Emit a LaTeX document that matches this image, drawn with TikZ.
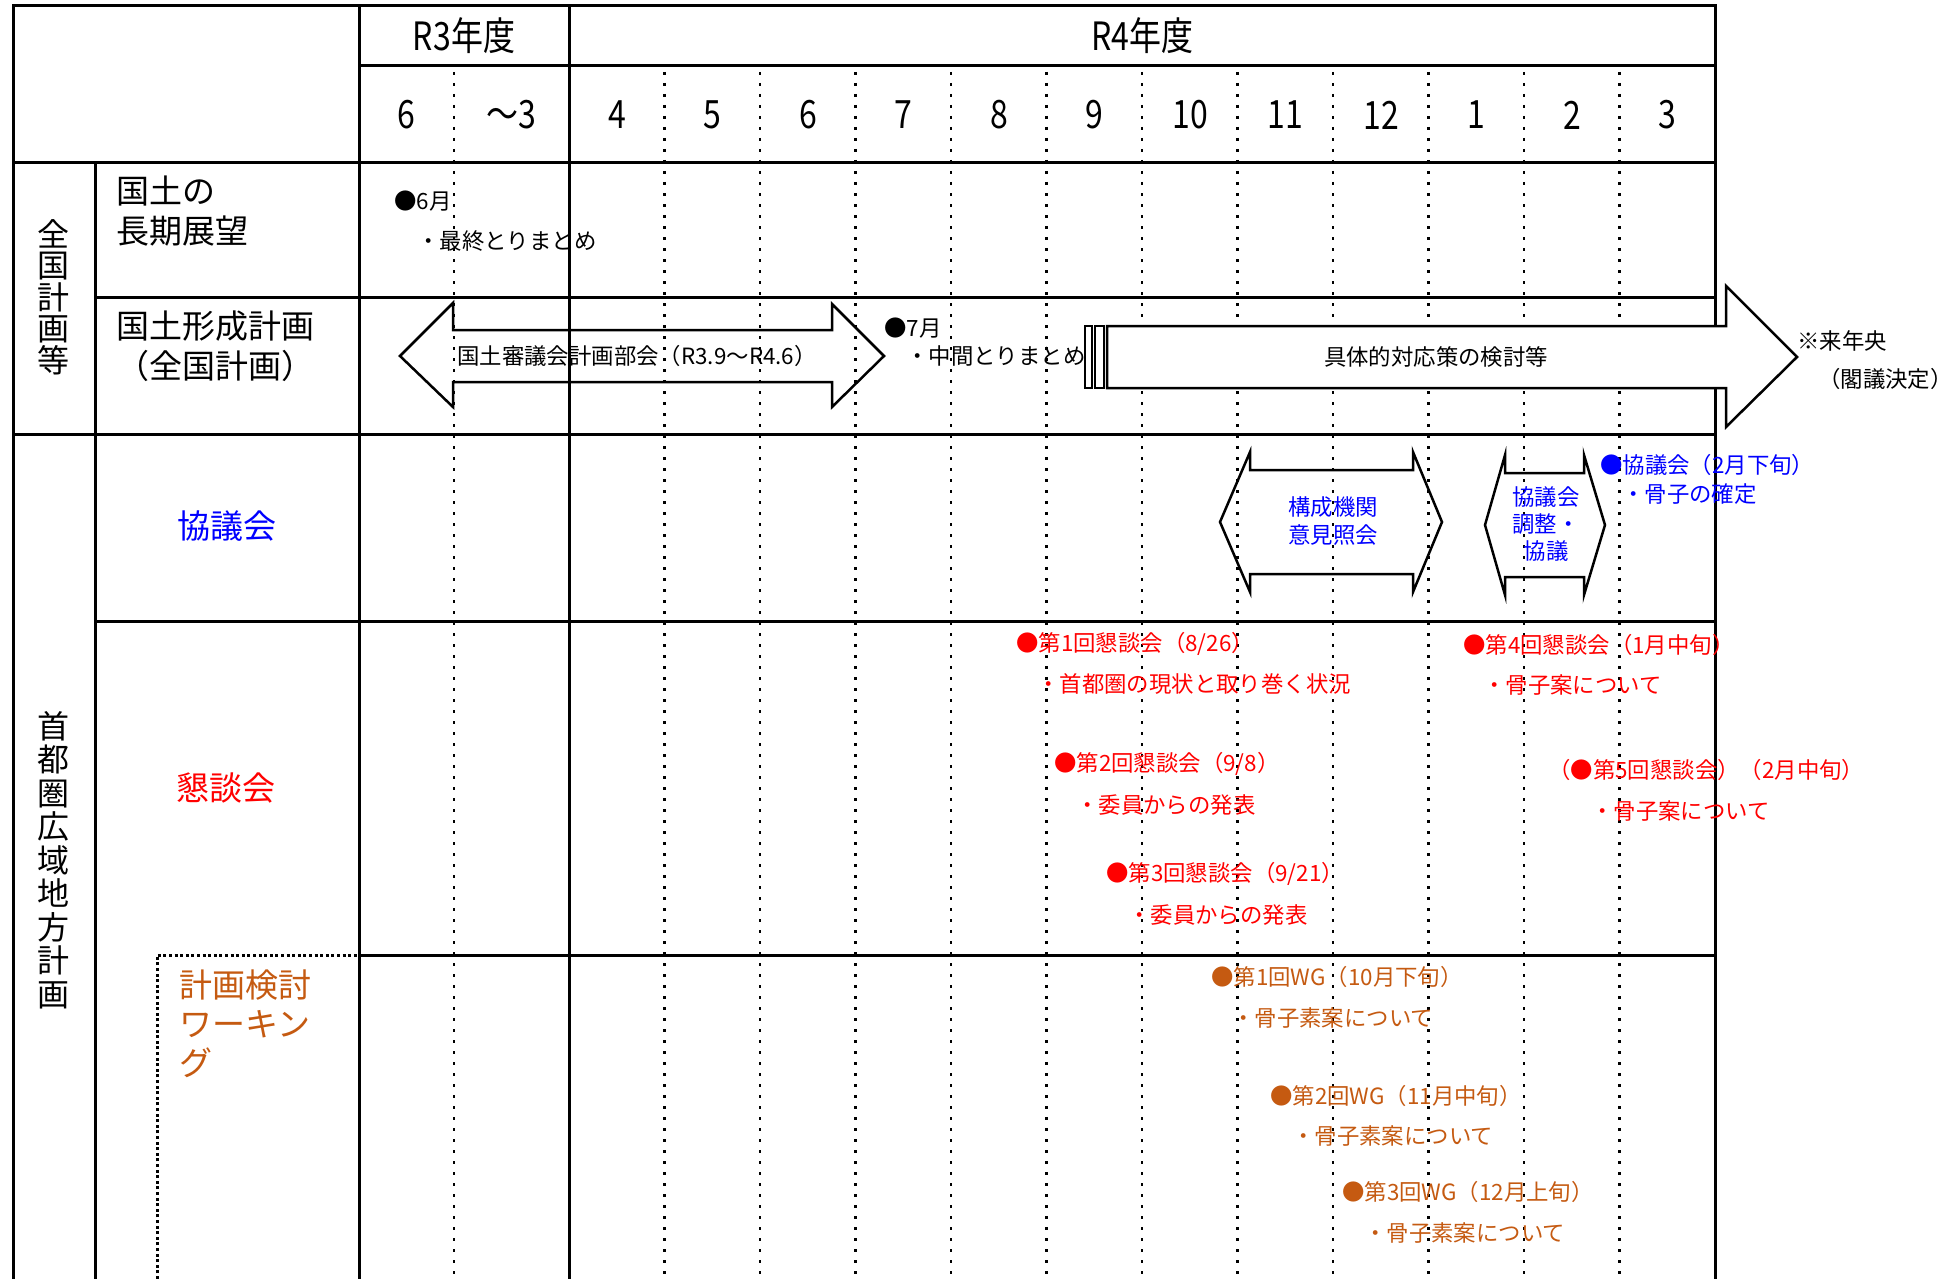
\documentclass[tikz,border=0pt]{standalone}
\usepackage{fontspec}
\setmainfont{Noto Sans CJK JP}
\newfontfamily\narrowfont[FakeStretch=0.82]{Noto Sans CJK JP}
\definecolor{kblue}{RGB}{0,0,255}
\definecolor{kred}{RGB}{255,0,0}
\definecolor{korange}{RGB}{197,90,17}
\begin{document}
\begin{tikzpicture}[x=1pt,y=-1pt,
  grid/.style={line width=3pt},
  mdot/.style={line width=2.6pt, dash pattern=on 2.6pt off 8.4pt},
  wgdot/.style={line width=3pt, dash pattern=on 3pt off 2.6pt},
  txt/.style={inner sep=0pt, anchor=west, font=\fontsize{22.4}{27}\selectfont},
  ctxt/.style={inner sep=0pt, align=center, font=\fontsize{22.4}{27.5}\selectfont},
  hdr/.style={inner sep=0pt, font=\narrowfont\fontsize{39}{44}\selectfont},
  lbl/.style={inner sep=0pt, font=\fontsize{33}{40}\selectfont},
  vlbl/.style={inner sep=0pt, align=center},
  arr/.style={line width=2.5pt, line join=miter}]

\useasboundingbox (0,0) rectangle (1960,1279);
\fill[white] (0,0) rectangle (1960,1279);

% month dotted lines
\foreach \x in {454,664.5,760,855.5,951,1046.5,1142,1237.5,1333,1428.5,1524,1619.5}
  \draw[mdot] (\x,72) -- (\x,1279);

% grid
\draw[grid] (13,1279) -- (13,6) -- (1715,6) -- (1715,1279);
\draw[grid] (359,6) -- (359,1279);
\draw[grid] (569,6) -- (569,1279);
\draw[grid] (95,163) -- (95,1279);
\draw[grid] (359,66) -- (1715,66);
\draw[grid] (13,163) -- (1715,163);
\draw[grid] (95,297) -- (1715,297);
\draw[grid] (13,434) -- (1715,434);
\draw[grid] (95,621) -- (1715,621);
\draw[grid] (359,955) -- (1715,955);
\draw[wgdot] (157,1279) -- (157,955) -- (357,955);

% header
\node[hdr] (r3) at (464,36) {R3年度};
\node[hdr] (r4) at (1142,36) {R4年度};
\foreach \x/\m [count=\i] in {406.5/6,511.5/～3,617/4,712/5,808/6,903/7,999/8,1094/9,1190/10,1285/11,1381/12,1476/1,1572/2,1667/3}
  \node[hdr] (m\i) at (\x,115) {\m};

% left labels
\node[vlbl, font=\fontsize{32}{31.5}\selectfont] (zenkoku) at (53,297) {全\\国\\計\\画\\等};
\node[vlbl, font=\fontsize{32}{33.5}\selectfont] (shutoken) at (53,860) {首\\都\\圏\\広\\域\\地\\方\\計\\画};
\node[lbl, anchor=west, align=left] (choki) at (116,211) {国土の\\長期展望};
\node[lbl, anchor=west, align=left] (keikaku) at (116,346) {国土形成計画\\（全国計画）};
\node[lbl, text=kblue] (kyogikai) at (227,526) {協議会};
\node[lbl, text=kred] (kondankai) at (226,788) {懇談会};
\node[lbl, anchor=west, align=left, text=korange, font=\fontsize{33}{39}\selectfont] (wg) at (179,1024) {計画検討\\ワーキン\\グ};

% row 1
\node[txt] (t6) at (394,201) {●6月};
\node[txt] (tsaishu) at (417,241) {・最終とりまとめ};

% row 2 : left double arrow
\draw[arr] (400,356) -- (453,303) -- (453,330) -- (832,330) -- (832,304) -- (884,356)
  -- (832,407) -- (832,382) -- (453,382) -- (453,407) -- cycle;
\node[ctxt] (shingikai) at (637,356) {国土審議会計画部会（R3.9～R4.6）};
\node[txt] (t7) at (884,328) {●7月};
\node[txt] (tchukan) at (906,356) {・中間とりまとめ};

% big arrow
\draw[arr, fill=white] (1085,326) rectangle (1092,388);
\draw[arr, fill=white] (1095,326) rectangle (1104,388);
\draw[arr, fill=white] (1107,326) -- (1726,326) -- (1726,286) -- (1797,357) -- (1726,427)
  -- (1726,388) -- (1107,388) -- cycle;
\node[ctxt] (gutai) at (1436,357) {具体的対応策の検討等};
\node[txt] (rainen) at (1797,341) {※来年央};
\node[txt] (kakugi) at (1818,379) {（閣議決定）};

% row 3 : kyogikai
\draw[arr] (1220,522) -- (1250,452) -- (1250,470) -- (1413,470) -- (1413,452) -- (1442,522)
  -- (1413,592) -- (1413,574) -- (1250,574) -- (1250,592) -- cycle;
\node[ctxt, text=kblue] (iken) at (1333,521) {構成機関\\意見照会};
\draw[arr] (1485,525) -- (1505,455) -- (1505,473) -- (1584,473) -- (1584,455) -- (1605,525)
  -- (1584,595) -- (1584,577) -- (1505,577) -- (1505,595) -- cycle;
\node[ctxt, text=kblue, font=\fontsize{22.4}{27}\selectfont] (chosei) at (1546,524) {協議会\\調整・\\協議};
\node[txt, text=kblue] (k2) at (1600,465) {●協議会（2月下旬）};
\node[txt, text=kblue] (k2b) at (1622,494) {・骨子の確定};

% row 4 : kondankai
\node[txt, text=kred] (c1) at (1016,644) {●第1回懇談会（8/26）};
\node[txt, text=kred] (c1b) at (1037,684) {・首都圏の現状と取り巻く状況};
\node[txt, text=kred] (c2) at (1054,764) {●第2回懇談会（9/8）};
\node[txt, text=kred] (c2b) at (1076,805) {・委員からの発表};
\node[txt, text=kred] (c3) at (1106,874) {●第3回懇談会（9/21）};
\node[txt, text=kred] (c3b) at (1128,915) {・委員からの発表};
\node[txt, text=kred] (c4) at (1463,645) {●第4回懇談会（1月中旬）};
\node[txt, text=kred] (c4b) at (1483,685) {・骨子案について};
\node[txt, text=kred] (c5) at (1548,770) {（●第5回懇談会）（2月中旬）};
\node[txt, text=kred] (c5b) at (1591,811) {・骨子案について};

% row 5 : WG
\node[txt, text=korange] (w1) at (1211,977) {●第1回WG（10月下旬）};
\node[txt, text=korange] (w1b) at (1232,1018) {・骨子素案について};
\node[txt, text=korange] (w2) at (1270,1096) {●第2回WG（11月中旬）};
\node[txt, text=korange] (w2b) at (1292,1136) {・骨子素案について};
\node[txt, text=korange] (w3) at (1342,1192) {●第3回WG（12月上旬）};
\node[txt, text=korange] (w3b) at (1364,1233) {・骨子素案について};
\end{tikzpicture}
\end{document}
